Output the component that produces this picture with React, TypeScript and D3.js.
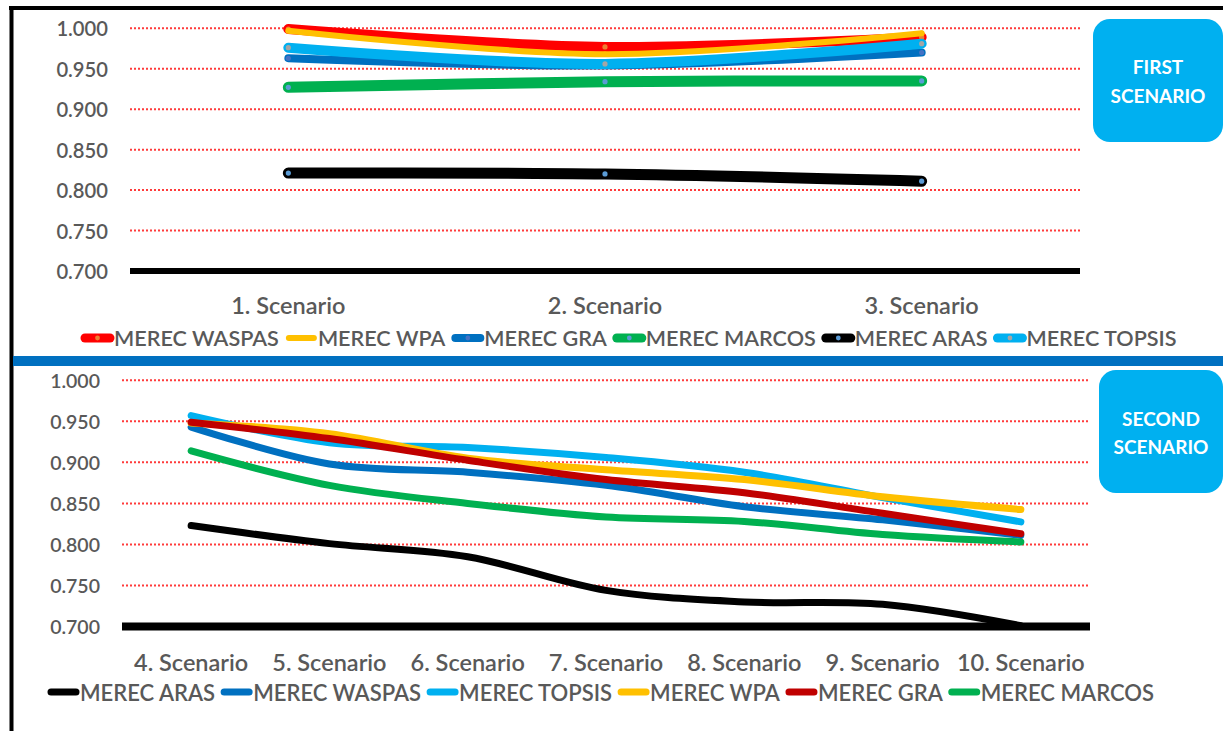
import React, { useEffect, useRef } from "react";
import * as d3 from "d3";

// ---------- data ----------
const topCategories = ["1. Scenario", "2. Scenario", "3. Scenario"];
const topNames = ["MEREC WASPAS", "MEREC WPA", "MEREC GRA", "MEREC MARCOS", "MEREC ARAS", "MEREC TOPSIS"];
const topWaspas = [0.999, 0.977, 0.989];
const topWpa = [0.997, 0.968, 0.994];
const topGra = [0.963, 0.954, 0.97];
const topMarcos = [0.927, 0.934, 0.935];
const topAras = [0.821, 0.82, 0.811];
const topTopsis = [0.976, 0.956, 0.981];

const bottomCategories = [
  "4. Scenario", "5. Scenario", "6. Scenario", "7. Scenario", "8. Scenario", "9. Scenario", "10. Scenario",
];
const bottomNames = ["MEREC ARAS", "MEREC WASPAS", "MEREC TOPSIS", "MEREC WPA", "MEREC GRA", "MEREC MARCOS"];
const bottomAras = [0.823, 0.801, 0.785, 0.744, 0.73, 0.727, 0.701];
const bottomWaspas = [0.943, 0.898, 0.888, 0.872, 0.846, 0.83, 0.811];
const bottomTopsis = [0.957, 0.924, 0.918, 0.906, 0.888, 0.857, 0.8275];
const bottomWpa = [0.948, 0.935, 0.905, 0.891, 0.879, 0.858, 0.8425];
const bottomGra = [0.949, 0.929, 0.9025, 0.879, 0.863, 0.838, 0.813];
const bottomMarcos = [0.914, 0.872, 0.85, 0.8335, 0.828, 0.812, 0.803];

const yTicks = [0.7, 0.75, 0.8, 0.85, 0.9, 0.95, 1.0];

// ---------- styles ----------
const FONT = "Lato, 'Open Sans', sans-serif";
const TEXT = "#595959";
const topColors = ["#FF0000", "#FFC000", "#0070C0", "#00B050", "#000000", "#00B0F0"];
const topMarkerColors = ["#ED7D31", "#FFC000", "#4472C4", "#5B9BD5", "#5B9BD5", "#A5A5A5"];
const topWidths = [10, 6, 8, 11, 11, 10];
const bottomColors = ["#000000", "#0070C0", "#00B0F0", "#FFC000", "#C00000", "#00B050"];

type Panel = {
  cats: string[];
  names: string[];
  series: number[][];
  colors: string[];
  widths: number[];
  markers: string[] | null;
  x0: number; x1: number; yTop: number; yBottom: number;
  labelRight: number; tickSize: number; catSize: number; legendSize: number;
  catY: number; legendY: number; legendX: number; legendGap: number;
  axisWidth: number;
};

function drawPanel(svg: d3.Selection<SVGSVGElement, unknown, null, undefined>, p: Panel) {
  const g = svg.append("g");
  const x = d3.scaleBand<string>().domain(p.cats).range([p.x0, p.x1]);
  const y = d3.scaleLinear().domain([0.7, 1.0]).range([p.yBottom, p.yTop]);
  const cx = (c: string) => (x(c) as number) + x.bandwidth() / 2;

  // gridlines
  g.selectAll("line.grid")
    .data(yTicks.filter((t) => t > 0.7))
    .join("line")
    .attr("x1", p.x0).attr("x2", p.x1)
    .attr("y1", (d) => y(d)).attr("y2", (d) => y(d))
    .attr("stroke", "#FF3B3B").attr("stroke-width", 2).attr("stroke-dasharray", "2,2");

  // tick labels
  g.selectAll("text.tick")
    .data(yTicks)
    .join("text")
    .attr("x", p.labelRight).attr("y", (d) => y(d))
    .attr("text-anchor", "end").attr("dominant-baseline", "central")
    .attr("font-family", FONT).attr("font-weight", 600).attr("font-size", p.tickSize).attr("fill", TEXT)
    .text((d) => d3.format(".3f")(d));

  // axis line
  g.append("line")
    .attr("x1", p.x0).attr("x2", p.x1)
    .attr("y1", y(0.7)).attr("y2", y(0.7))
    .attr("stroke", "#000").attr("stroke-width", p.axisWidth);

  // category labels
  g.selectAll("text.cat")
    .data(p.cats)
    .join("text")
    .attr("x", (d) => cx(d)).attr("y", p.catY)
    .attr("text-anchor", "middle").attr("dominant-baseline", "central")
    .attr("font-family", FONT).attr("font-weight", 600).attr("font-size", p.catSize).attr("fill", TEXT)
    .text((d) => d);

  const line = d3.line<number>()
    .x((_, i) => cx(p.cats[i]))
    .y((d) => y(d))
    .curve(d3.curveCardinal.tension(0));

  p.series.forEach((s, k) => {
    g.append("path")
      .attr("d", line(s) as string)
      .attr("fill", "none")
      .attr("stroke", p.colors[k])
      .attr("stroke-width", p.widths[k])
      .attr("stroke-linecap", "round")
      .attr("stroke-linejoin", "round");
    if (p.markers) {
      g.selectAll(null)
        .data(s)
        .join("circle")
        .attr("cx", (_, i) => cx(p.cats[i]))
        .attr("cy", (d) => y(d))
        .attr("r", 2.6)
        .attr("fill", p.markers[k]);
    }
  });

  // legend
  let lx = p.legendX;
  const swW = 33;
  p.names.forEach((name, k) => {
    g.append("line")
      .attr("x1", lx + 4).attr("x2", lx + swW - 4)
      .attr("y1", p.legendY).attr("y2", p.legendY)
      .attr("stroke", p.colors[k])
      .attr("stroke-width", Math.max(6, Math.min(9, p.widths[k])))
      .attr("stroke-linecap", "round");
    if (p.markers) {
      g.append("circle")
        .attr("cx", lx + swW / 2).attr("cy", p.legendY).attr("r", 2.4)
        .attr("fill", p.markers[k]);
    }
    const t = g.append("text")
      .attr("x", lx + swW).attr("y", p.legendY)
      .attr("dominant-baseline", "central")
      .attr("font-family", FONT).attr("font-weight", 600).attr("font-size", p.legendSize).attr("fill", TEXT)
      .text(name);
    const w = (t.node() as SVGTextElement).getComputedTextLength();
    lx += swW + w + p.legendGap;
  });
}

function Box({ x, y, w, h, lines, cy }: { x: number; y: number; w: number; h: number; lines: string[]; cy: number[] }) {
  return (
    <g>
      <rect x={x} y={y} width={w} height={h} rx={17} fill="#00B0F0" />
      {lines.map((l, i) => (
        <text key={l} x={x + w / 2} y={cy[i]} textAnchor="middle" dominantBaseline="central"
          fontFamily={FONT} fontWeight="bold" fontSize={19} fill="#FFFFFF">{l}</text>
      ))}
    </g>
  );
}

export default function App() {
  const ref = useRef<SVGSVGElement>(null);
  useEffect(() => {
    const svg = d3.select(ref.current as SVGSVGElement);
    svg.selectAll("g.charts").remove();
    const root = svg.append("g").attr("class", "charts");
    const holder = root as unknown as d3.Selection<SVGSVGElement, unknown, null, undefined>;
    drawPanel(holder, {
      cats: topCategories,
      names: topNames,
      series: [topWaspas, topWpa, topGra, topMarcos, topAras, topTopsis],
      colors: topColors,
      widths: topWidths,
      markers: topMarkerColors,
      x0: 130, x1: 1080, yTop: 28.3, yBottom: 271,
      labelRight: 108, tickSize: 20.2, catSize: 23.5, legendSize: 21.6,
      catY: 305, legendY: 338, legendX: 81, legendGap: 6,
      axisWidth: 6,
    });
    drawPanel(holder, {
      cats: bottomCategories,
      names: bottomNames,
      series: [bottomAras, bottomWaspas, bottomTopsis, bottomWpa, bottomGra, bottomMarcos],
      colors: bottomColors,
      widths: [7, 7, 7, 7, 7, 7],
      markers: null,
      x0: 122, x1: 1090, yTop: 380.3, yBottom: 626.5,
      labelRight: 100, tickSize: 19.5, catSize: 23.5, legendSize: 22,
      catY: 662, legendY: 692, legendX: 47, legendGap: 5,
      axisWidth: 8,
    });
  }, []);

  return (
    <svg ref={ref} width={1223} height={731}
      style={{ position: "absolute", left: 0, top: 0, background: "#fff" }}>
      <rect x={0} y={0} width={1223} height={731} fill="#fff" />
      {/* frame */}
      <line x1={9} x2={1223} y1={8} y2={8} stroke="#000" strokeWidth={4} />
      <line x1={11.5} x2={11.5} y1={6} y2={731} stroke="#000" strokeWidth={4} />
      {/* separator */}
      <rect x={13} y={356} width={1210} height={10} fill="#0070C0" />
      <Box x={1093} y={19} w={130} h={123} lines={["FIRST", "SCENARIO"]} cy={[66, 95]} />
      <Box x={1099} y={370} w={124} h={123} lines={["SECOND", "SCENARIO"]} cy={[418, 446]} />
    </svg>
  );
}
